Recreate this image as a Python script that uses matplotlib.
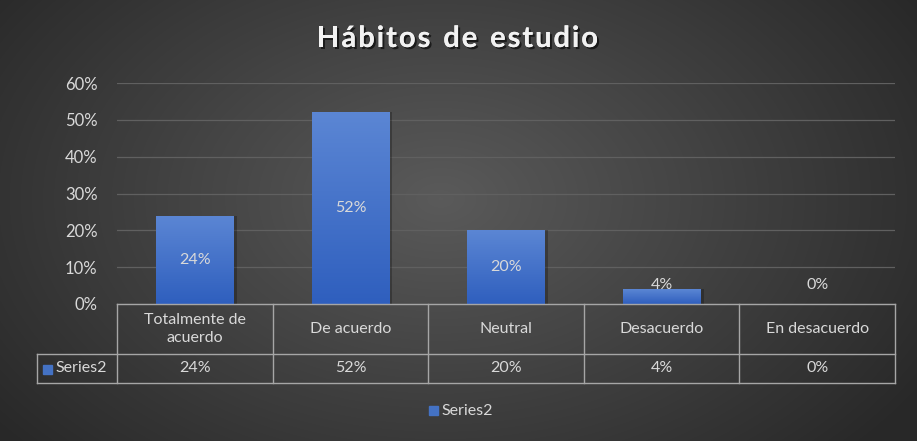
import numpy as np
import matplotlib.pyplot as plt
import matplotlib.patheffects as pe
from matplotlib.colors import LinearSegmentedColormap

categories = ["Totalmente de\nacuerdo", "De acuerdo", "Neutral", "Desacuerdo", "En desacuerdo"]
values = [0.24, 0.52, 0.20, 0.04, 0.00]
series_name = "Series2"
title = "Hábitos de estudio"

W, H = 917, 441
plt.rcParams['font.family'] = ['Lato', 'DejaVu Sans']
txt = '#d9d9d9'
line_c = '#a6a6a6'
fs = 11.5

fig = plt.figure(figsize=(W / 100, H / 100), dpi=100)

# radial background
bg = fig.add_axes([0, 0, 1, 1], zorder=-10)
yy, xx = np.mgrid[0:H, 0:W]
r = np.sqrt(((xx - W * 0.48) / (W * 0.62)) ** 2 + ((yy - H * 0.45) / (H * 0.85)) ** 2)
bgmap = LinearSegmentedColormap.from_list('bg', ['#5a5a5a', '#282828'])
bg.imshow(np.clip(r, 0, 1), cmap=bgmap, vmin=0, vmax=1, aspect='auto', extent=[0, W, H, 0])
bg.set_xlim(0, W)
bg.set_ylim(H, 0)
bg.axis('off')

# pixel helpers
def fx(px):
    return px / W

def fy(py):
    return 1 - py / H

left, right, y0, y60 = 117, 895, 304, 83
ax = fig.add_axes([fx(left), fy(y0), fx(right) - fx(left), fy(y60) - fy(y0)])
ax.set_facecolor('none')
n = len(categories)
x = np.arange(n)

bars = ax.bar(x, values, width=0.5, color='#4472c4', zorder=3)
grad = LinearSegmentedColormap.from_list('bar', ['#2f5fbe', '#5b86d4'])
for b in bars:
    bx, by = b.get_x(), b.get_y()
    bw, bh = b.get_width(), b.get_height()
    if bh <= 0:
        continue
    # soft shadow
    ax.add_patch(plt.Rectangle((bx + 0.02, by), bw, bh, color='black', alpha=0.25, zorder=2, lw=0))
    im = ax.imshow(np.linspace(0, 1, 100).reshape(-1, 1), cmap=grad, aspect='auto',
                   extent=[bx, bx + bw, by, by + bh], origin='lower', zorder=3)
    im.set_clip_path(b)
    b.set_alpha(0)
ax.set_xlim(-0.5, n - 0.5)
ax.set_ylim(0, 0.6)

for xi, v in zip(x, values):
    ax.text(xi, max(v / 2, 0.052), f"{v:.0%}", ha='center', va='center', color=txt, fontsize=fs, zorder=5)

ticks = np.arange(0, 0.61, 0.1)
ax.set_yticks(ticks)
ax.set_yticklabels([f"{t:.0%}" for t in ticks])
ax.tick_params(axis='y', length=0, colors=txt, labelsize=12, pad=14)
ax.tick_params(axis='x', length=0, labelbottom=False)
ax.grid(axis='y', color='#606060', lw=0.9, zorder=0)
for s in ax.spines.values():
    s.set_visible(False)

# data table below the axis
tab_left, row1, row2 = 37, 354, 383
cw = (right - left) / n
lk = dict(color=line_c, lw=1, transform=fig.transFigure, zorder=6)
fig.add_artist(plt.Line2D([fx(left), fx(right)], [fy(y0), fy(y0)], **lk))
fig.add_artist(plt.Line2D([fx(tab_left), fx(right)], [fy(row1), fy(row1)], **lk))
fig.add_artist(plt.Line2D([fx(tab_left), fx(right)], [fy(row2), fy(row2)], **lk))
fig.add_artist(plt.Line2D([fx(tab_left), fx(tab_left)], [fy(row1), fy(row2)], **lk))
for i in range(n + 1):
    px = left + cw * i
    fig.add_artist(plt.Line2D([fx(px), fx(px)], [fy(y0), fy(row2)], **lk))
for i, (c, v) in enumerate(zip(categories, values)):
    cx = fx(left + cw * (i + 0.5))
    fig.text(cx, fy((y0 + row1) / 2), c, ha='center', va='center', color=txt, fontsize=fs,
             linespacing=1.3)
    fig.text(cx, fy((row1 + row2) / 2), f"{v:.0%}", ha='center', va='center', color=txt, fontsize=fs)
fig.add_artist(plt.Rectangle((fx(43), fy(374)), fx(9), fy(365) - fy(374), color='#4472c4',
                             transform=fig.transFigure))
fig.text(fx(55), fy((row1 + row2) / 2), series_name, ha='left', va='center', color=txt, fontsize=fs)

# legend
fig.add_artist(plt.Rectangle((fx(429), fy(415)), fx(9), fy(406) - fy(415), color='#4472c4',
                             transform=fig.transFigure))
fig.text(fx(441), fy(411), series_name, ha='left', va='center', color=txt, fontsize=fs)

# title with letter spacing, placed char by char
renderer = fig.canvas.get_renderer()
tk = dict(va='baseline', ha='left', color='#f2f2f2', fontsize=21, fontweight='bold',
          path_effects=[pe.withSimplePatchShadow(offset=(1.5, -1.5), shadow_rgbFace='black', alpha=0.6),
                        pe.Normal()])
widths = []
for ch in title:
    t = fig.text(0, 0, ch if ch != ' ' else 'n', **tk)
    w = t.get_window_extent(renderer).width
    widths.append(w * (0.55 if ch == ' ' else 1.0))
    t.remove()
target = 598 - 317
gap = (target - sum(widths)) / (len(title) - 1)
px = 317
for ch, w in zip(title, widths):
    if ch != ' ':
        fig.text(fx(px), fy(47), ch, **tk)
    px += w + gap

fig.savefig('out.png', dpi=100)
